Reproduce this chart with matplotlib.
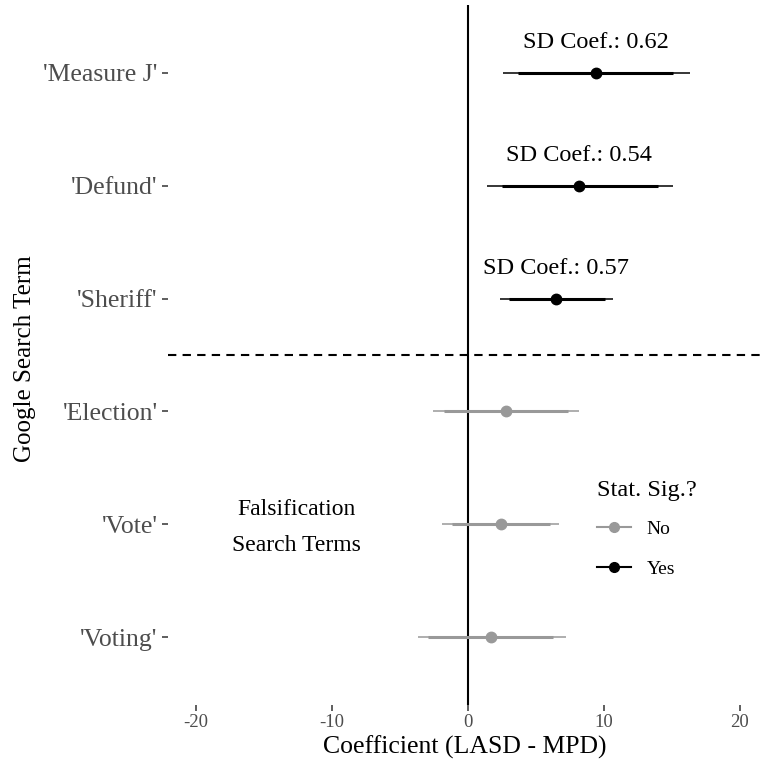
import numpy as np
import matplotlib.pyplot as plt
from matplotlib.lines import Line2D

plt.rcParams["font.family"] = ["Liberation Serif", "DejaVu Serif"]

terms = ["'Measure J'", "'Defund'", "'Sheriff'", "'Election'", "'Vote'", "'Voting'"]
coef = [9.4, 8.2, 6.5, 2.8, 2.4, 1.7]
lo95 = [2.6, 1.4, 2.35, -2.6, -1.9, -3.7]
hi95 = [16.3, 15.1, 10.7, 8.2, 6.7, 7.2]
lo90 = [3.7, 2.5, 3.0, -1.75, -1.2, -2.9]
hi90 = [15.1, 14.0, 10.1, 7.35, 6.0, 6.25]
significant = [True, True, True, False, False, False]
sd_coef = ["0.62", "0.54", "0.57", None, None, None]

BLACK = "#000000"
GREY = "#999999"

fig = plt.figure(figsize=(7.61, 7.63), dpi=100)
ax = fig.add_axes([168 / 761, 1 - 705 / 763, 1 - 168 / 761, 700 / 763])

ypos = np.arange(len(terms))[::-1] + 1

for y, c, l95, h95, l90, h90, sig, sd in zip(ypos, coef, lo95, hi95, lo90, hi90,
                                             significant, sd_coef):
    col = BLACK if sig else GREY
    ax.plot([l95, h95], [y, y], color=col, lw=1.1, solid_capstyle="butt", zorder=3)
    ax.plot([l90, h90], [y, y], color=col, lw=2.2, solid_capstyle="butt", zorder=3)
    ax.plot(c, y, "o", color=col, ms=7.5, zorder=4)
    if sd is not None:
        ax.text(c, y + 0.27, f"SD Coef.: {sd}", ha="center", va="center",
                fontsize=17.5, color="black")

ax.axvline(0, color="black", lw=1.5, zorder=2)
ax.axhline(3.5, color="black", lw=1.5, ls=(0, (4, 3)), zorder=2)

ax.text(-12.6, 1.97, "Falsification\nSearch Terms", ha="center", va="center",
        fontsize=17, linespacing=1.95)

ax.set_xlim(-22.05, 21.55)
ax.set_ylim(0.4, 6.6)
ax.set_yticks(ypos)
ax.set_yticklabels(terms, fontsize=18.5, color="#4D4D4D")
ax.set_xticks([-20, -10, 0, 10, 20])
ax.set_xticklabels(["-20", "-10", "0", "10", "20"], fontsize=13.5, color="#4D4D4D")
ax.tick_params(axis="both", length=4.5, width=1.1, color="#333333")
ax.tick_params(axis="x", pad=2)
ax.tick_params(axis="y", pad=3)
for s in ax.spines.values():
    s.set_visible(False)

ax.set_xlabel("Coefficient (LASD - MPD)", fontsize=18.5, labelpad=3)
ax.set_ylabel("Google Search Term", fontsize=18)
ax.yaxis.set_label_coords(-0.222, 0.495)

handles = [
    Line2D([], [], color=GREY, lw=1.5, marker="o", ms=7),
    Line2D([], [], color=BLACK, lw=1.5, marker="o", ms=7),
]
leg = ax.legend(handles, ["No", "Yes"], title="Stat. Sig.?", loc="center",
                bbox_to_anchor=((647 - 168) / 593, 1 - 524 / 700), frameon=False,
                fontsize=14, title_fontsize=17.5, handlelength=1.75,
                handletextpad=0.8, labelspacing=1.15, alignment="left")
leg.get_title().set_y(0)
leg._legend_box.sep = 14

fig.savefig("out.png", dpi=100)
